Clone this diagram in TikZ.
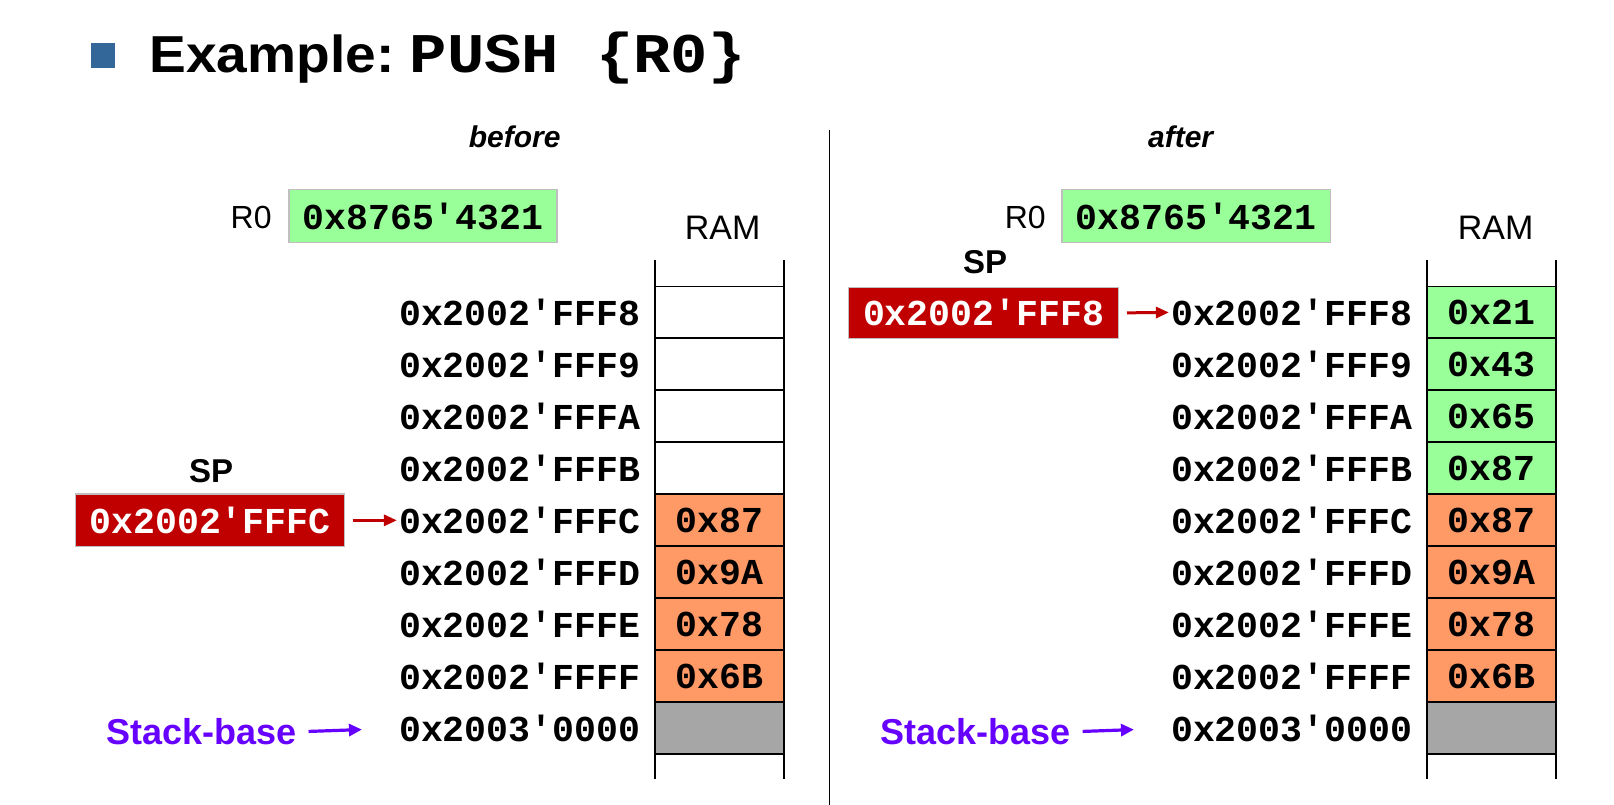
\documentclass[tikz,border=0pt]{standalone}
\usepackage{fontspec}
\usepackage{graphicx}
\setmainfont{Liberation Sans}
\setmonofont{Liberation Mono}
\usetikzlibrary{arrows.meta}
\definecolor{cgreen}{HTML}{99FF99}
\definecolor{corange}{HTML}{FF9966}
\definecolor{cgray}{HTML}{A6A6A6}
\definecolor{cred}{HTML}{C00000}
\definecolor{cpurple}{HTML}{6600FF}
\definecolor{cblue}{HTML}{336699}
\definecolor{cborder}{HTML}{BFBFBF}
\begin{document}
\begin{tikzpicture}[x=1.0293pt,y=-1.0293pt,
  mono/.style={font=\fontsize{36.5}{40}\selectfont\ttfamily\bfseries},
  addr/.style={mono, anchor=east, inner sep=0pt},
  cell/.style={mono, draw=black, line width=1.8pt, minimum width=129.7pt, minimum height=52pt, inner sep=0pt},
  reg/.style={mono, draw=cborder, line width=1.2pt, minimum width=268pt, minimum height=53pt, inner sep=0pt},
  lbl/.style={inner sep=0pt, font=\fontsize{32}{36}\selectfont},
  boldlbl/.style={inner sep=0pt, font=\fontsize{33}{36}\selectfont\bfseries},
  hdr/.style={inner sep=0pt, font=\fontsize{30}{34}\selectfont\bfseries\itshape},
  sblbl/.style={inner sep=0pt, anchor=west, text=cpurple, font=\fontsize{36}{39}\selectfont\bfseries},
  ramline/.style={line width=1.8pt},
  sparrow/.style={draw=cred, line width=3pt, -{Triangle[length=13pt,width=11pt]}},
  sbarrow/.style={draw=cpurple, line width=3.2pt, -{Triangle[length=13pt,width=12pt]}},
]
\useasboundingbox (0,0) rectangle (1568,782);
% title
\node[fill=cblue, minimum size=24.7pt, inner sep=0pt] (bullet) at (100,54) {};
\node[anchor=base west, inner sep=0pt, font=\fontsize{52}{56}\selectfont\bfseries] (t1) at (145,70) {\scalebox{1.06}[1]{Example:}};
\node[anchor=base west, inner sep=0pt, font=\fontsize{56}{60}\selectfont\ttfamily\bfseries] (t2) at (398,70) {\scalebox{1.11}[1]{PUSH \{R0\}}};
% divider
\draw[line width=1.5pt] (806,126) -- (806,782);
% headers
\node[hdr] (before) at (500,133) {before};
\node[hdr] (after) at (1147,133) {after};
% R0 registers
\node[lbl] (r0L) at (244,211) {R0};
\node[reg, fill=cgreen] (r0boxL) at (411,210) {0x8765'4321};
\node[lbl] (r0R) at (996,211) {R0};
\node[reg, fill=cgreen] (r0boxR) at (1162,210) {0x8765'4321};
% RAM labels
\node[lbl, font=\fontsize{34}{38}\selectfont] (ramL) at (702,221) {RAM};
\node[lbl, font=\fontsize{34}{38}\selectfont] (ramR) at (1453,221) {RAM};
% RAM side lines
\draw[ramline] (636,253) -- (636,757);
\draw[ramline] (762,253) -- (762,757);
\draw[ramline] (1386,253) -- (1386,757);
\draw[ramline] (1512,253) -- (1512,757);
% addresses
\foreach \i/\a in {0/2002'FFF8,1/2002'FFF9,2/2002'FFFA,3/2002'FFFB,4/2002'FFFC,5/2002'FFFD,6/2002'FFFE,7/2002'FFFF,8/2003'0000}{
  \node[addr] (aL\i) at (622,303.5+50.5*\i) {0x\a};
  \node[addr] (aR\i) at (1372,303.5+50.5*\i) {0x\a};
}
% left cells
\node[cell, fill=white] (cL0) at (699,303.5) {};
\node[cell, fill=white] (cL1) at (699,354) {};
\node[cell, fill=white] (cL2) at (699,404.5) {};
\node[cell, fill=white] (cL3) at (699,455) {};
\node[cell, fill=corange] (cL4) at (699,505.5) {0x87};
\node[cell, fill=corange] (cL5) at (699,556) {0x9A};
\node[cell, fill=corange] (cL6) at (699,606.5) {0x78};
\node[cell, fill=corange] (cL7) at (699,657) {0x6B};
\node[cell, fill=cgray] (cL8) at (699,707.5) {};
% right cells
\node[cell, fill=cgreen] (cR0) at (1449,303.5) {0x21};
\node[cell, fill=cgreen] (cR1) at (1449,354) {0x43};
\node[cell, fill=cgreen] (cR2) at (1449,404.5) {0x65};
\node[cell, fill=cgreen] (cR3) at (1449,455) {0x87};
\node[cell, fill=corange] (cR4) at (1449,505.5) {0x87};
\node[cell, fill=corange] (cR5) at (1449,556) {0x9A};
\node[cell, fill=corange] (cR6) at (1449,606.5) {0x78};
\node[cell, fill=corange] (cR7) at (1449,657) {0x6B};
\node[cell, fill=cgray] (cR8) at (1449,707.5) {};
% SP
\node[boldlbl] (spL) at (205,458) {SP};
\node[reg, fill=cred, text=white, minimum width=269.7pt, minimum height=52.5pt] (spboxL) at (204,505.5) {0x2002'FFFC};
\draw[sparrow, shorten <=8pt, shorten >=2pt] (spboxL.east) -- (aL4.west);
\node[boldlbl] (spR) at (957,255) {SP};
\node[reg, fill=cred, text=white, minimum width=269.7pt, minimum height=51pt] (spboxR) at (955.5,304) {0x2002'FFF8};
\draw[sparrow, shorten <=8pt, shorten >=2pt] (spboxR.east) -- (aR0.west);
% stack base
\node[sblbl] (sbL) at (103,711) {Stack-base};
\draw[sbarrow, shorten <=12pt, shorten >=37pt] (sbL.east) -- (aL8.west);
\node[sblbl] (sbR) at (855,711) {Stack-base};
\draw[sbarrow, shorten <=12pt, shorten >=37pt] (sbR.east) -- (aR8.west);
\end{tikzpicture}
\end{document}
